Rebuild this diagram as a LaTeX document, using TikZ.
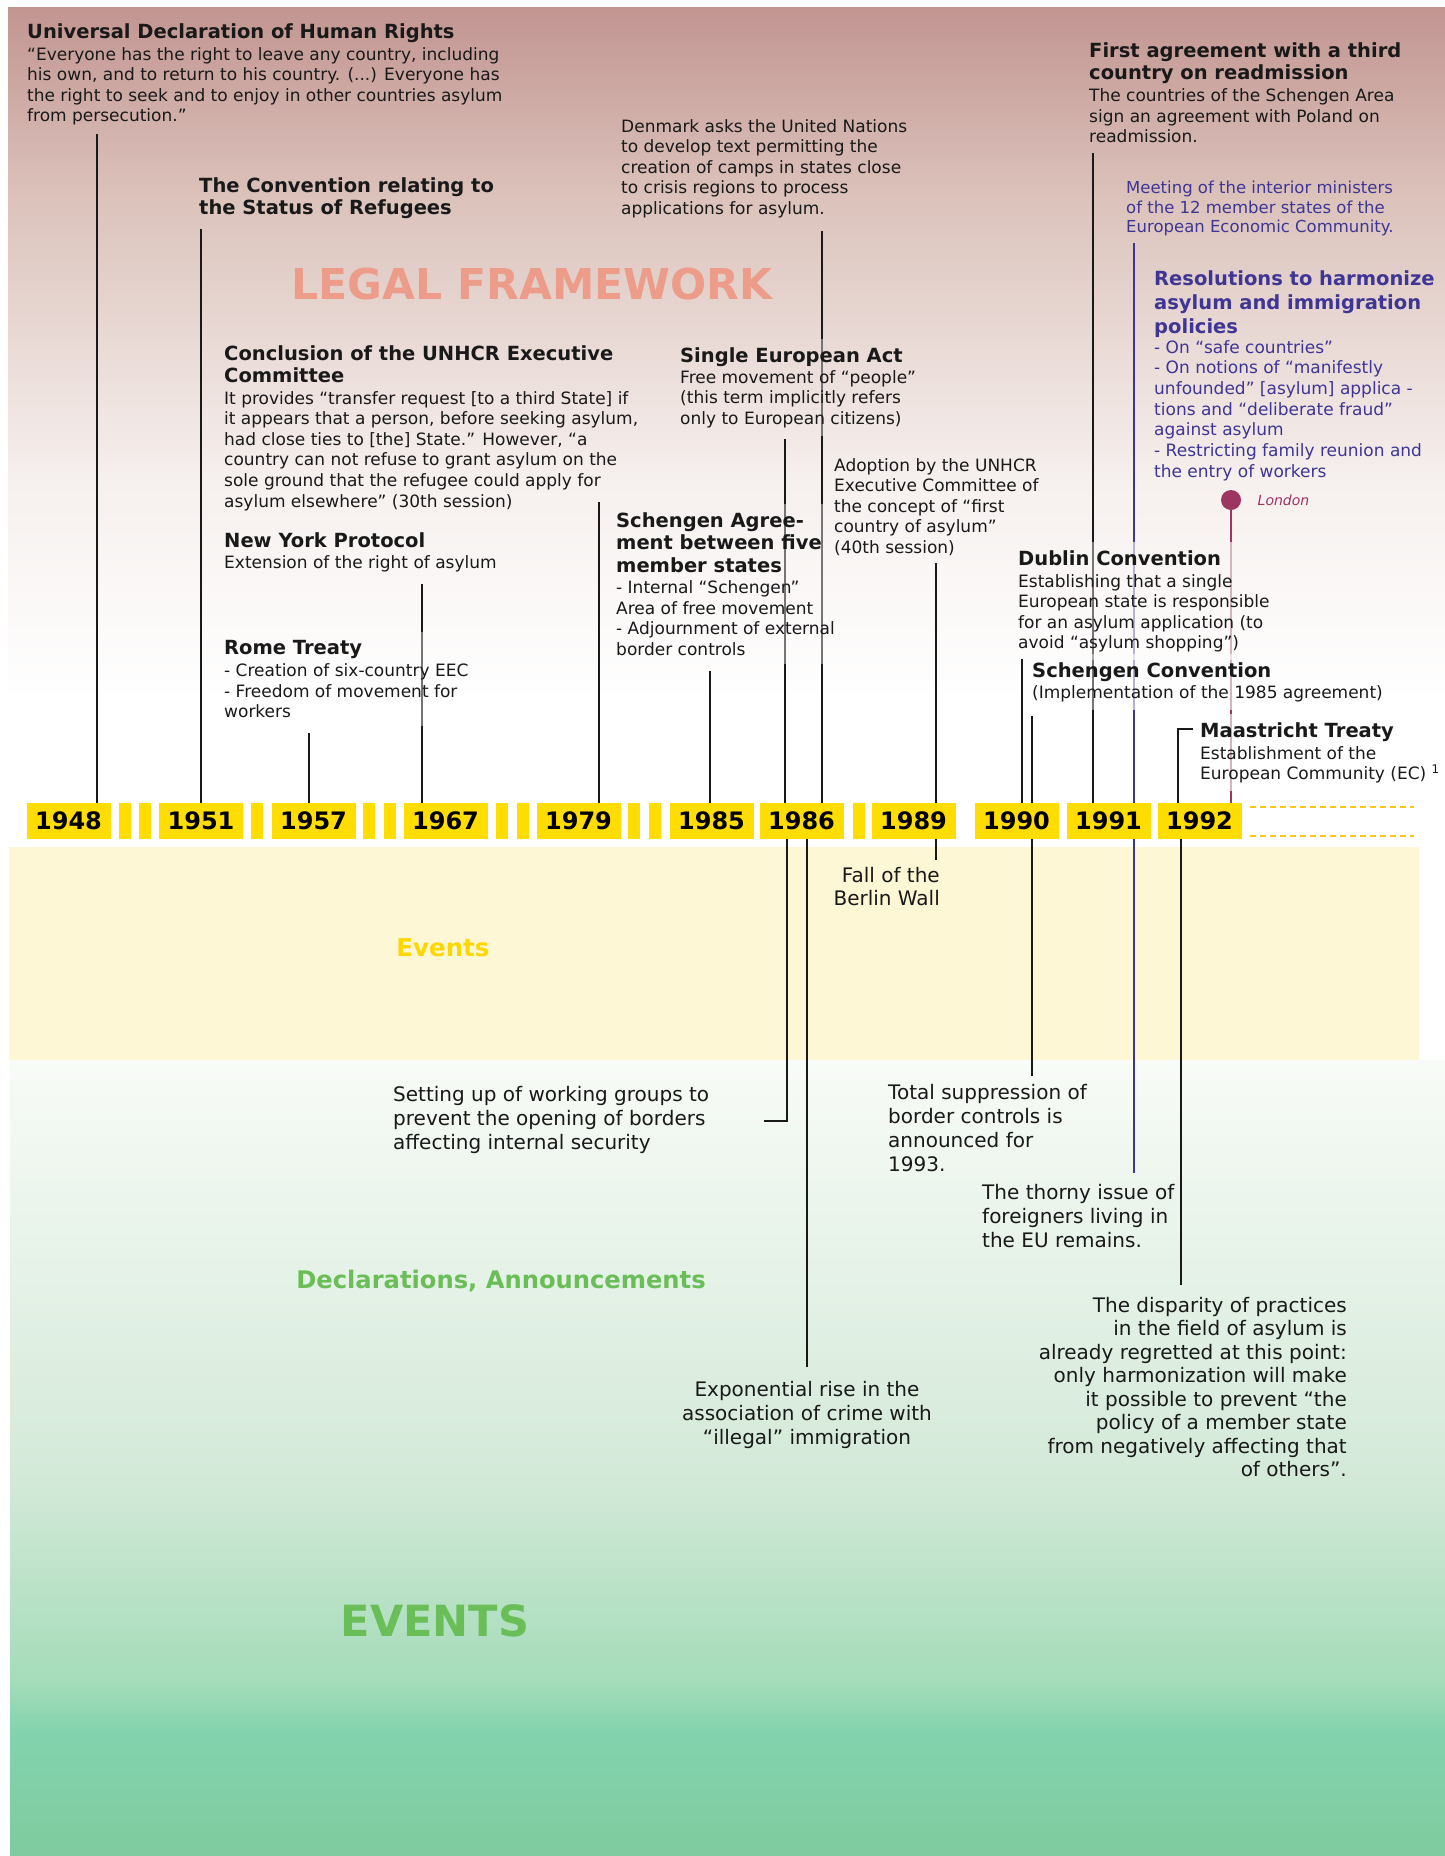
\documentclass[tikz,border=0pt]{standalone}
\usepackage{fontspec}
\setmainfont{DejaVu Sans}
\usetikzlibrary{positioning}

\definecolor{rosetop}{HTML}{C29591}
\definecolor{rosemid}{HTML}{DCC3BC}
\definecolor{roselow}{HTML}{F6F0EE}
\definecolor{bandyellow}{HTML}{FDF7D6}
\definecolor{greenhigh}{HTML}{F8FBF7}
\definecolor{greenmid}{HTML}{D3E9D8}
\definecolor{greenlow}{HTML}{A5DCB9}
\definecolor{mint}{HTML}{82D3AE}
\definecolor{mintbottom}{HTML}{80CB9F}
\definecolor{yearyellow}{HTML}{FFDD00}
\definecolor{dashorange}{HTML}{FFC61A}
\definecolor{legalsalmon}{HTML}{EC9C88}
\definecolor{eventgold}{HTML}{FFD700}
\definecolor{declgreen}{HTML}{6ABE58}
\definecolor{resblue}{HTML}{3E3595}
\definecolor{londonred}{HTML}{9D3561}

\newcommand{\bodysize}{\fontsize{17}{20.6}\selectfont}
\newcommand{\headsize}{\fontsize{19.5}{22}\selectfont\bfseries}
\newcommand{\lowsize}{\fontsize{20}{24}\selectfont}

\pgfdeclarelayer{shades}
\pgfdeclarelayer{stems}
\pgfsetlayers{shades,stems,main}

\begin{document}
\begin{tikzpicture}[x=1pt, y=-1pt,
    evt/.style={align=left, anchor=north west, inner sep=0pt, font=\bodysize, text=black!90},
    low/.style={inner sep=0pt, font=\lowsize, text=black!90},
    yearbox/.style={fill=yearyellow, minimum width=84pt, minimum height=36pt, inner sep=0pt,
        font=\fontsize{24}{24}\selectfont\bfseries},
    stem/.style={line width=1.4pt, draw=black!90},
    bluestem/.style={line width=1.8pt, draw=resblue},
    londonstem/.style={line width=1.8pt, draw=londonred}]
    \useasboundingbox (0,0) rectangle (1445,1856);

    % Background bands
    \begin{pgfonlayer}{shades}
        \fill[white] (0,0) rectangle (1445,1856);
        \shade[top color=rosetop, bottom color=rosemid] (8,7) rectangle (1445,201);
        \shade[top color=rosemid, bottom color=roselow] (8,200) rectangle (1445,481);
        \shade[top color=roselow, bottom color=white] (8,480) rectangle (1445,700);
        \fill[bandyellow] (9,847) rectangle (1419,1060);
        \shade[top color=greenhigh, bottom color=greenmid] (10,1060) rectangle (1445,1481);
        \shade[top color=greenmid, bottom color=greenlow] (10,1480) rectangle (1445,1681);
        \shade[top color=greenlow, bottom color=mint] (10,1680) rectangle (1445,1734);
        \shade[top color=mint, bottom color=mintbottom] (10,1733) rectangle (1445,1856);
    \end{pgfonlayer}

    % Section titles
    \node[font=\fontsize{42.5}{42.5}\selectfont\bfseries, text=legalsalmon] (legal) at (532,284) {LEGAL FRAMEWORK};
    \node[font=\fontsize{24.5}{24.5}\selectfont\bfseries, text=eventgold] (evlabel) at (443,948) {Events};
    \node[font=\fontsize{24.2}{24.2}\selectfont\bfseries, text=declgreen, anchor=base] (decl) at (501,1288) {Declarations, Announcements};
    \node[font=\fontsize{43}{43}\selectfont\bfseries, text=declgreen] (evbig) at (435,1621) {EVENTS};

    % Year boxes and filler bars on the axis
    \foreach \yr/\cx in {1948/68.5, 1951/201, 1957/313.5, 1967/445.5, 1979/578.5, 1985/711.5,
        1986/801.5, 1989/913.5, 1990/1016.5, 1991/1108.5, 1992/1199.5}
        \node[yearbox] (y\yr) at (\cx,821) {\yr};
    \foreach \bx in {125, 145, 257, 369, 390, 502, 522.5, 634, 655, 858.5}
        \fill[yearyellow] (\bx-6,803) rectangle (\bx+6,839);
    \draw[dashorange, line width=2pt, dash pattern=on 6pt off 4pt] ([xshift=8pt,yshift=-4pt]y1992.north east) -- ++(164,0);
    \draw[dashorange, line width=2pt, dash pattern=on 6pt off 4pt] ([xshift=8pt,yshift=3pt]y1992.south east) -- ++(164,0);

    % Legal framework (above the axis)
    \node[evt] (udhr) at (27,23) {{\headsize Universal Declaration of Human Rights}\\[1.4pt]
        “Everyone has the right to leave any country, including\\
        his own, and to return to his country. (...) Everyone has\\
        the right to seek and to enjoy in other countries asylum\\
        from persecution.”};
    \node[evt] (refconv) at (199,177) {{\headsize The Convention relating to}\\[1.4pt]
        {\headsize the Status of Refugees}};
    \node[evt] (denmark) at (621,119) {Denmark asks the United Nations\\
        to develop text permitting the\\ creation of camps in states close\\
        to crisis regions to process\\ applications for asylum.};
    \node[evt] (firstagr) at (1089,42) {{\headsize First agreement with a third}\\[1.4pt]
        {\headsize country on readmission}\\[2pt]
        The countries of the Schengen Area\\ sign an agreement with Poland on\\ readmission.};
    \node[evt, text=resblue, font=\fontsize{16.5}{19.6}\selectfont] (meeting) at (1126,181) {Meeting of the interior ministers\\
        of the 12 member states of the\\ European Economic Community.};
    \node[evt, text=resblue, font=\fontsize{17}{20.7}\selectfont] (resol) at (1154,270) {{\headsize Resolutions to harmonize}\\[3.3pt]
        {\headsize asylum and immigration}\\[3.3pt] {\headsize policies}\\[-0.7pt]
        - On “safe countries”\\ - On notions of “manifestly\\ unfounded” [asylum] applica -\\
        tions and “deliberate fraud”\\ against asylum\\ - Restricting family reunion and\\
        the entry of workers};
    \node[circle, fill=londonred, minimum size=20pt, inner sep=0pt,
        label={[font=\fontsize{14}{14}\selectfont\itshape, text=londonred, label distance=13pt]right:London}] (london) at (1231,500) {};
    \node[evt] (sea) at (680,347) {{\headsize Single European Act}\\[0.4pt]
        Free movement of “people”\\ (this term implicitly refers\\ only to European citizens)};
    \node[evt] (unhcr) at (224,345) {{\headsize Conclusion of the UNHCR Executive}\\[1.4pt]
        {\headsize Committee}\\[1.4pt]
        It provides “transfer request [to a third State] if\\
        it appears that a person, before seeking asylum,\\
        had close ties to [the] State.” However, “a\\
        country can not refuse to grant asylum on the\\
        sole ground that the refugee could apply for\\
        asylum elsewhere” (30th session)};
    \node[evt] (nyprot) at (224,532) {{\headsize New York Protocol}\\[0.4pt] Extension of the right of asylum};
    \node[evt] (rome) at (224,640) {{\headsize Rome Treaty}\\[1.4pt]
        - Creation of six-country EEC\\ - Freedom of movement for\\ workers};
    \node[evt] (schagr) at (616,512) {{\headsize Schengen Agree-}\\[1.4pt]
        {\headsize ment between five}\\[3pt] {\headsize member states}\\[0.4pt]
        - Internal “Schengen”\\ Area of free movement\\ - Adjournment of external\\ border controls};
    \node[evt] (adopt) at (834,458) {Adoption by the UNHCR\\ Executive Committee of\\
        the concept of “first\\ country of asylum”\\ (40th session)};
    \node[evt, font=\fontsize{17}{20.5}\selectfont] (dublin) at (1018,550) {{\headsize Dublin Convention}\\[1.5pt]
        Establishing that a single\\ European state is responsible\\
        for an asylum application (to\\ avoid “asylum shopping”)};
    \node[evt] (schconv) at (1032,662) {{\headsize Schengen Convention}\\[0.4pt]
        (Implementation of the 1985 agreement)};
    \node[evt, font=\fontsize{17}{20.3}\selectfont] (maast) at (1200,722) {{\headsize Maastricht Treaty}\\[1.7pt]
        Establishment of the\\ European Community (EC) \textsuperscript{1}};

    % Events, declarations and announcements (below the axis)
    \node[low, font=\fontsize{20}{23}\selectfont, align=right, anchor=north east] (fall) at (940,867) {Fall of the\\ Berlin Wall};
    \node[low, align=left, anchor=north west] (groups) at (393,1086) {Setting up of working groups to\\
        prevent the opening of borders\\ affecting internal security};
    \node[low, align=left, anchor=north west] (suppr) at (888,1084) {Total suppression of\\
        border controls is\\ announced for\\ 1993.};
    \node[low, align=left, anchor=north west] (thorny) at (982,1184) {The thorny issue of\\
        foreigners living in\\ the EU remains.};
    \node[low, align=center, anchor=north] (expo) at (807,1381) {Exponential rise in the\\
        association of crime with\\ “illegal” immigration};
    \node[low, font=\fontsize{20}{23.5}\selectfont, align=right, anchor=north east] (dispar) at (1347,1297) {The disparity of practices\\
        in the field of asylum is\\ already regretted at this point:\\ only harmonization will make\\
        it possible to prevent “the\\ policy of a member state\\ from negatively affecting that\\
        of others”.};

    % Stems from each text to its year
    \coordinate (s48) at (97,134);
    \coordinate (s51) at (201,229);
    \coordinate (s57) at (309,733);
    \coordinate (s67) at (422,584);
    \coordinate (s79) at (599,502);
    \coordinate (s85) at (710,671);
    \coordinate (s86a) at (785,439);
    \coordinate (s86b) at (822,231);
    \coordinate (s89) at (936,563);
    \coordinate (s90a) at (1022,659);
    \coordinate (s90b) at (1032,716);
    \coordinate (s91a) at (1093,153);
    \coordinate (s91b) at (1134,243);
    \coordinate (s92) at (1193,729);
    \coordinate (g86) at (787,1121);
    \coordinate (e86) at (807,1367);
    \coordinate (f89) at (936,860);
    \coordinate (t90) at (1032,1076);
    \coordinate (h91) at (1134,1173);
    \coordinate (d92) at (1181,1285);
    \begin{pgfonlayer}{stems}
        \foreach \s/\yr in {s48/1948, s51/1951, s57/1957, s67/1967, s79/1979, s85/1985,
            s86a/1986, s86b/1986, s89/1989, s90a/1990, s90b/1990, s91a/1991}
            \draw[stem] (\s) -- (\s |- y\yr.north);
        \draw[bluestem] (s91b) -- (s91b |- y1991.north);
        \draw[londonstem] (london) -- (london |- y1992.north);
        \draw[stem] (s92) -- ++(-15,0) coordinate (k92) -- (k92 |- y1992.north);
        % below the axis
        \draw[stem] (g86 |- y1986.south) -- (g86) -- ++(-23,0);
        \draw[stem] (e86 |- y1986.south) -- (e86);
        \draw[stem] (f89 |- y1989.south) -- (f89);
        \draw[stem] (t90 |- y1990.south) -- (t90);
        \draw[bluestem] (h91 |- y1991.south) -- (h91);
        \draw[stem] (d92 |- y1992.south) -- (d92);
        % stems fade where they run behind a text
        \begin{scope}
            \clip (421.3,584) rectangle (422.7,803) (784.3,439) rectangle (785.7,803)
                (821.3,231) rectangle (822.7,803) (1092.3,153) rectangle (1093.7,803)
                (1133.1,243) rectangle (1134.9,803) (1230.1,500) rectangle (1231.9,803);
            \foreach \n in {rome, schagr, sea, dublin, schconv, maast}
                \fill[white, fill opacity=.62] ([xshift=-8pt,yshift=8pt]\n.north west) rectangle ([xshift=8pt,yshift=-8pt]\n.south east);
        \end{scope}
    \end{pgfonlayer}
\end{tikzpicture}
\end{document}
